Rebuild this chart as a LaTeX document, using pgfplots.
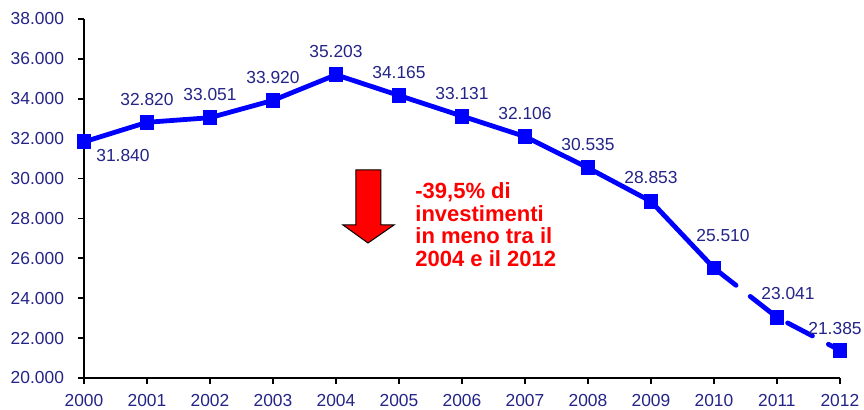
\documentclass[border=0pt]{standalone}
\usepackage{fontspec}
\setmainfont{Liberation Sans}
\usepackage{pgfplots}
\pgfplotsset{compat=1.18}
\definecolor{txtblue}{RGB}{36,36,136}
\definecolor{lineblue}{RGB}{0,0,255}
\begin{document}
\begin{tikzpicture}
\begin{axis}[
  scale only axis, width=378pt, height=179.5pt,
  xmin=2000, xmax=2012, ymin=20000, ymax=38000,
  xtick={2000,...,2012}, ytick={20000,22000,...,38000},
  axis lines=left, axis line style={-, line width=1.1pt},
  tick align=outside, tick style={black, line width=0.9pt}, major tick length=3pt,
  clip=false,
  scaled y ticks=false,
  x tick label style={/pgf/number format/1000 sep={}},
  y tick label style={/pgf/number format/1000 sep={.}, /pgf/number format/use comma, xshift=-3.5pt},
  /pgf/number format/assume math mode=true,
  tick label style={font=\fontsize{8.7}{10}\selectfont, text=txtblue},
  xticklabel style={yshift=-1.5pt},
]
\addplot[lineblue, line width=2.4pt, mark=square*, mark size=2.5pt]
  coordinates {(2000,31840) (2001,32820) (2002,33051) (2003,33920) (2004,35203)
               (2005,34165) (2006,33131) (2007,32106) (2008,30535) (2009,28853) (2010,25510)};
\addplot[lineblue, line width=2.4pt, line cap=round, dash pattern=on 14pt off 9pt,
  mark=square*, mark size=2.5pt, mark options={solid}]
  coordinates {(2010,25510) (2011,23041) (2012,21385)};
\begin{scope}[every node/.style={font=\fontsize{8.7}{10}\selectfont, text=txtblue}]
\node at ([xshift=19.5pt,yshift=-7pt]axis cs:2000,31840) {31.840};
\node at ([yshift=11.5pt]axis cs:2001,32820) {32.820};
\node at ([yshift=11.5pt]axis cs:2002,33051) {33.051};
\node at ([yshift=11.5pt]axis cs:2003,33920) {33.920};
\node at ([yshift=11.5pt]axis cs:2004,35203) {35.203};
\node at ([yshift=11.5pt]axis cs:2005,34165) {34.165};
\node at ([yshift=11.5pt]axis cs:2006,33131) {33.131};
\node at ([yshift=11.5pt]axis cs:2007,32106) {32.106};
\node at ([yshift=11.5pt]axis cs:2008,30535) {30.535};
\node at ([yshift=11.8pt]axis cs:2009,28853) {28.853};
\node at ([xshift=4.5pt,yshift=16.5pt]axis cs:2010,25510) {25.510};
\node at ([xshift=5.5pt,yshift=12pt]axis cs:2011,23041) {23.041};
\node at ([xshift=-2.5pt,yshift=11pt]axis cs:2012,21385) {21.385};
\end{scope}
\draw[fill=red, draw=black, line width=0.5pt]
  (axis cs:2004.317,30429) -- (axis cs:2004.714,30429) -- (axis cs:2004.714,27671)
  -- (axis cs:2004.921,27671) -- (axis cs:2004.508,26769) -- (axis cs:2004.111,27671)
  -- (axis cs:2004.317,27671) -- cycle;
\node[anchor=north west, align=left, text=red, font=\bfseries\fontsize{11}{11.2}\selectfont, inner sep=0pt]
  at (axis cs:2005.254,29800) {-39,5\% di\\investimenti\\in meno tra il\\2004 e il 2012};
\coordinate (ll) at (rel axis cs:0,0);
\coordinate (ur) at (rel axis cs:1,1);
\end{axis}
\pgfresetboundingbox
\path ([xshift=-42pt,yshift=-16pt]ll) rectangle ([xshift=12pt,yshift=9.5pt]ur);
\end{tikzpicture}
\end{document}
